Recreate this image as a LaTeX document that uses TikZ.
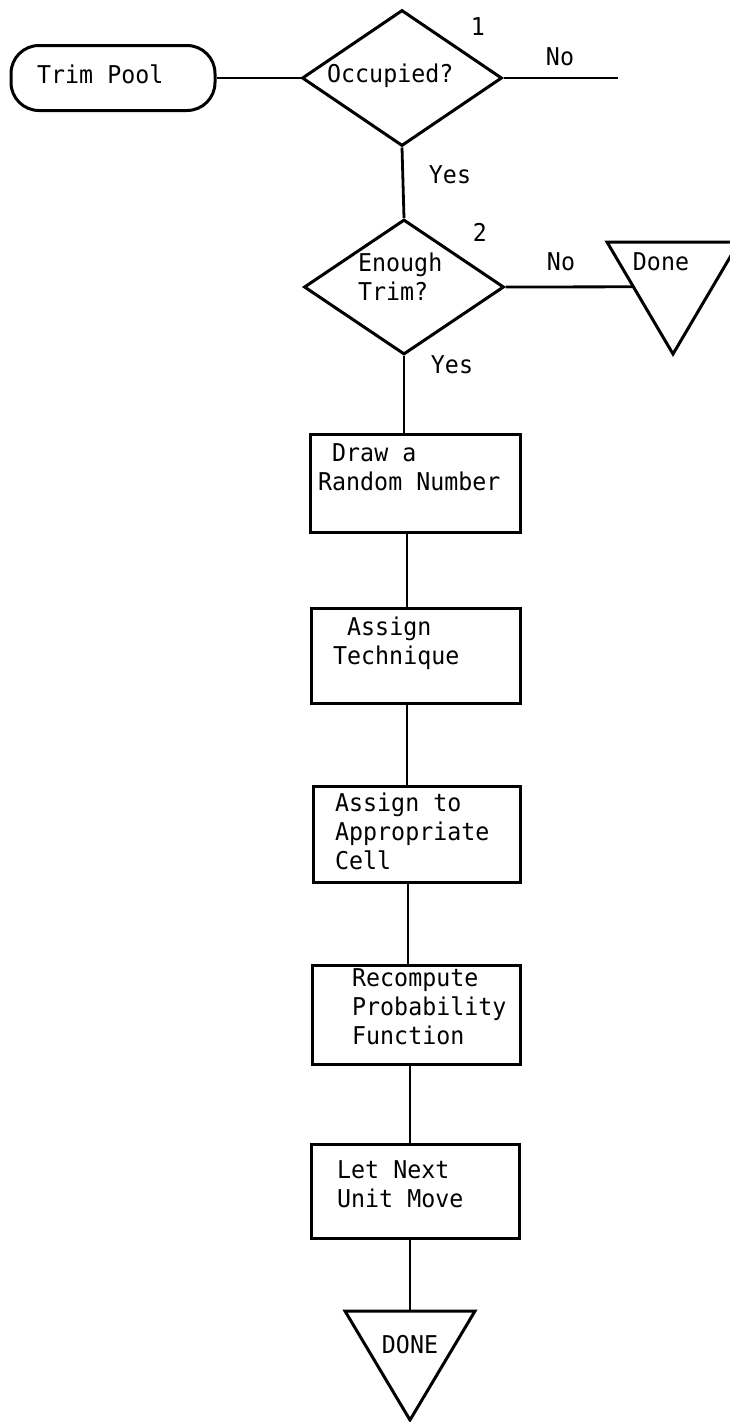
\documentclass[tikz,border=0pt]{standalone}
\usepackage{fontspec}
\newfontfamily\tw[FakeStretch=0.95]{DejaVu Sans Mono}
\usetikzlibrary{shapes.geometric,calc}
\begin{document}
\begin{tikzpicture}[x=1pt,y=-1pt,
  shapeline/.style={draw=black, line width=3pt},
  conn/.style={draw=black, line width=2.8pt},
  thinconn/.style={draw=black, line width=2.2pt},
  procbox/.style={shapeline, rectangle, inner sep=0pt, anchor=north west},
  decbox/.style={shapeline, diamond, inner sep=0pt, minimum width=200pt},
  txt/.style={font=\tw\fontsize{24.5}{29}\selectfont, inner sep=0pt, anchor=base west, align=left},
  lbl/.style={font=\tw\fontsize{24.5}{29}\selectfont, inner sep=0pt, anchor=base},
]
\useasboundingbox (0,0) rectangle (730,1422);
\begin{scope}
\clip (0,0) rectangle (730,1422);

% start terminal
\node[shapeline, rectangle, rounded corners=28pt, minimum width=204pt, minimum height=65pt, inner sep=0pt] (pool) at (113,78) {};
\node[txt] (poolt) at (37,83) {Trim Pool};

% decision 1
\node[decbox, minimum height=136pt] (d1) at (402,78) {};
\node[txt] (d1t) at (327,82) {Occupied?};
\node[lbl] (n1) at (478,35) {1};
\node[lbl] (no1) at (560,65) {No};
\node[lbl] (yes1) at (450,183) {Yes};
\coordinate (noend) at (618,78);

% decision 2
\node[decbox, minimum height=135pt] (d2) at (404,287) {};
\node[txt] (d2t) at (358,300) {Enough\\Trim?};
\node[lbl] (n2) at (480,241) {2};
\node[lbl] (no2) at (561,270) {No};
\node[lbl] (yes2) at (452,373) {Yes};

% Done triangle (right)
\coordinate (dtl) at (607,242);
\coordinate (dtr) at (739,242);
\coordinate (dbot) at (673,354);
\draw[shapeline, line join=miter] (dtl) -- (dtr) -- (dbot) -- cycle;
\coordinate (dhit) at ($(dtl)!0.4!(dbot)$);
\node[lbl] (donet) at (661,270) {Done};

% process boxes
\node[procbox, minimum width=210pt, minimum height=98pt] (b1) at (309,433) {};
\node[txt] (b1t) at (318,490) {\hphantom{D}Draw a\\Random Number};

\node[procbox, minimum width=209pt, minimum height=95pt] (b2) at (310,607) {};
\node[txt] (b2t) at (333,664) {\hphantom{A}Assign\\Technique};

\node[procbox, minimum width=207pt, minimum height=96pt] (b3) at (312,785) {};
\node[txt] (b3t) at (335,869) {Assign to\\Appropriate\\Cell};

\node[procbox, minimum width=208pt, minimum height=99pt] (b4) at (311,964) {};
\node[txt] (b4t) at (352,1044) {Recompute\\Probability\\Function};

\node[procbox, minimum width=208pt, minimum height=94pt] (b5) at (310,1143) {};
\node[txt] (b5t) at (337,1207) {Let Next\\Unit Move};

% final DONE triangle
\coordinate (Dtl) at (345,1311);
\coordinate (Dtr) at (475,1311);
\coordinate (Dbot) at (410,1420);
\coordinate (Dtop) at (410,1311);
\draw[shapeline, line join=miter] (Dtl) -- (Dtr) -- (Dbot) -- cycle;
\node[lbl] (DONEt) at (410,1353) {DONE};

% axis helpers
\coordinate (xb) at (407,0);
\coordinate (xc) at (408,0);
\coordinate (xd) at (410,0);

% connectors
\draw[conn] (pool.east) -- (d1.west);
\draw[conn] (d1.east) -- (noend);
\draw[conn] (d1.south) -- (d2.north);
\draw[conn] (d2.east) -- (dhit);
\draw[conn] (d2.south) -- (b1.north -| d2.south);
\draw[thinconn] (b1.south -| xb) -- (b2.north -| xb);
\draw[thinconn] (b2.south -| xb) -- (b3.north -| xb);
\draw[conn] (b3.south -| xc) -- (b4.north -| xc);
\draw[conn] (b4.south -| xd) -- (b5.north -| xd);
\draw[thinconn] (b5.south -| xd) -- (Dtop);
\end{scope}
\end{tikzpicture}
\end{document}
